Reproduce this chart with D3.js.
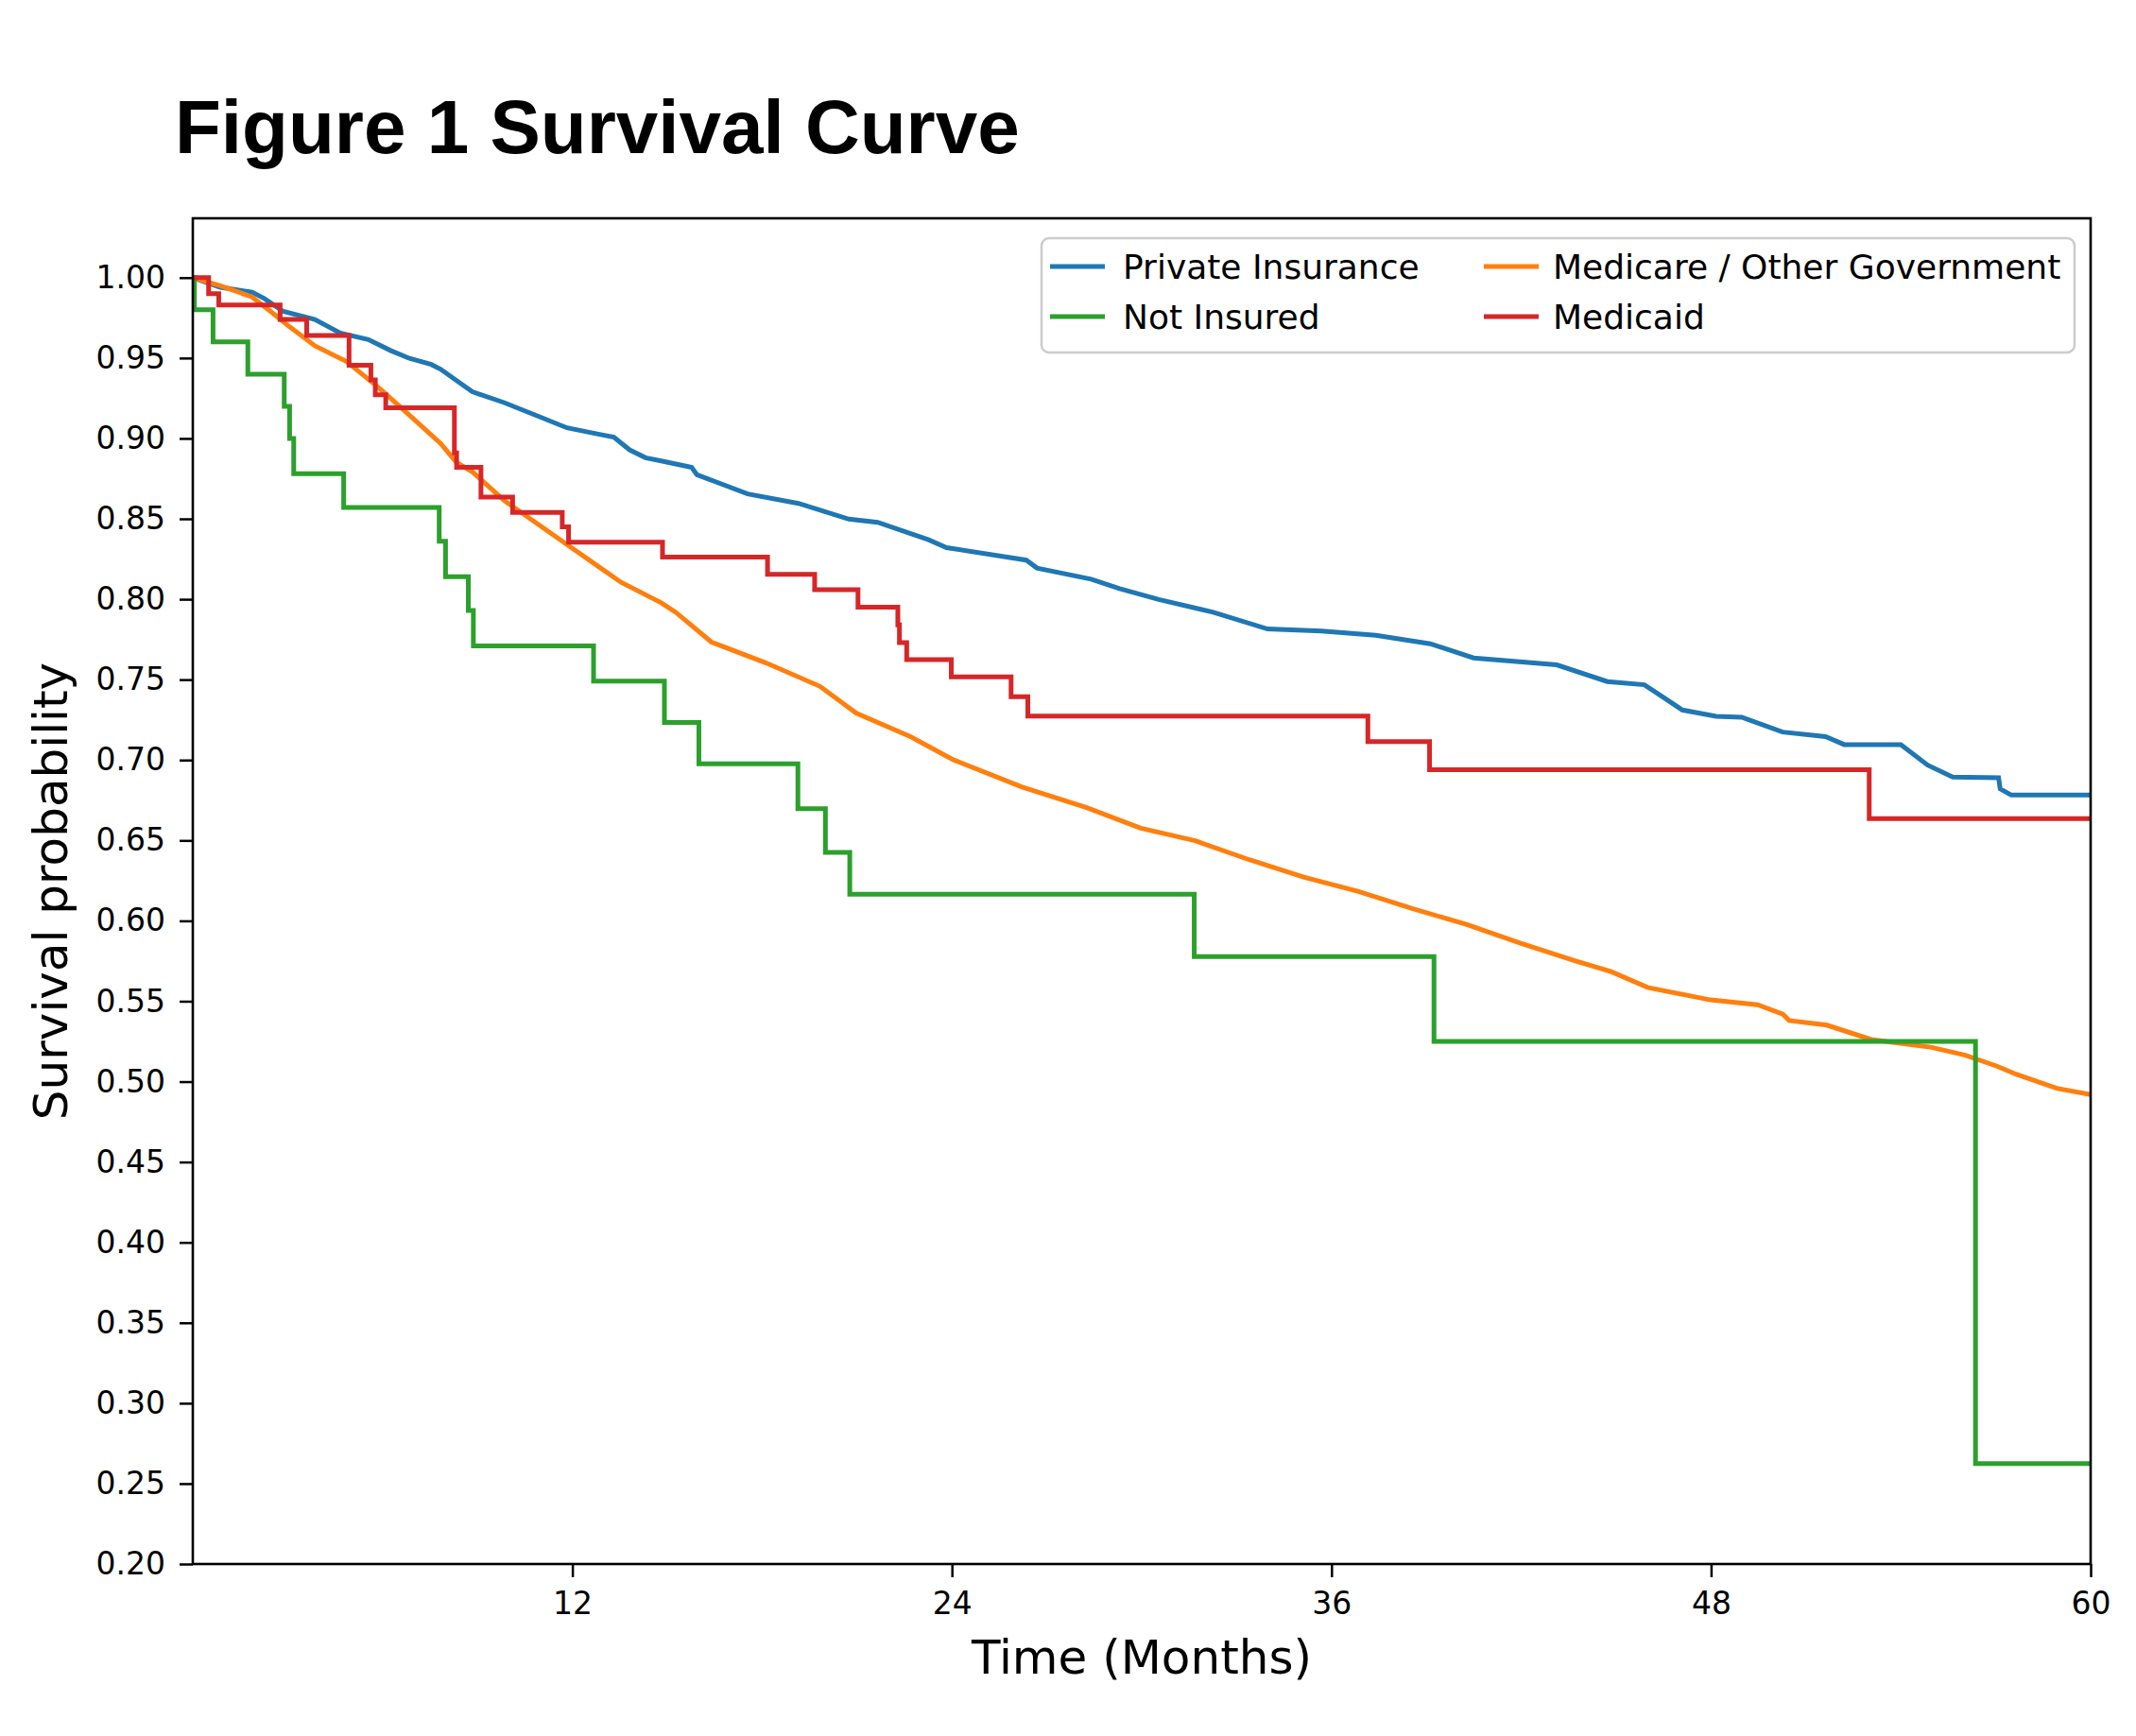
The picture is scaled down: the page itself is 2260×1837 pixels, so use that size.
<!DOCTYPE html>
<html>
<head>
<meta charset="utf-8">
<script src="https://cdn.jsdelivr.net/npm/d3@7"></script>
<style>
  body { margin: 0; background: #fff; }
  svg { display: block; }
  .tick text { font-family: "DejaVu Sans", sans-serif; fill: #000; }
</style>
</head>
<body>
<div id="chart"></div>
<script>
// Kaplan-Meier readings: [month, survival probability]
const privateInsurance = [
  [0, 1.0], [0.87, 0.994], [1.87, 0.991], [2.26, 0.987], [2.86, 0.979], [3.86, 0.974],
  [4.66, 0.9655], [5.55, 0.9615], [6.25, 0.9547], [6.85, 0.9498], [7.54, 0.946], [7.84, 0.943],
  [8.34, 0.936], [8.84, 0.929], [9.84, 0.9223], [10.83, 0.9145], [11.83, 0.9066], [12.82, 0.9027],
  [13.31, 0.9008], [13.81, 0.8929], [14.31, 0.888], [14.81, 0.886], [15.77, 0.882], [15.94, 0.8774],
  [17.54, 0.8655], [19.15, 0.8596], [20.74, 0.8498], [21.65, 0.8478], [23.26, 0.837], [23.83, 0.8321],
  [26.35, 0.8243], [26.69, 0.8194], [28.4, 0.8125], [29.3, 0.8066], [30.54, 0.7998], [32.26, 0.7919],
  [33.98, 0.7815], [35.69, 0.7802], [37.4, 0.7776], [39.12, 0.7723], [40.49, 0.7635], [43.12, 0.7592],
  [44.72, 0.7488], [45.89, 0.7468], [46.49, 0.739], [47.09, 0.7311], [48.16, 0.7272], [48.97, 0.7266],
  [50.26, 0.7174], [51.62, 0.7145], [52.21, 0.7096], [54.0, 0.7096], [54.85, 0.6968], [55.64, 0.6894],
  [57.09, 0.689], [57.14, 0.6821], [57.49, 0.6782], [60, 0.6782]
];

const medicareOther = [
  [0, 1.0], [0.87, 0.995], [1.87, 0.988], [2.46, 0.979], [3.06, 0.9694], [3.86, 0.9576],
  [4.86, 0.9478], [5.85, 0.9321], [6.85, 0.9145], [7.84, 0.8968], [8.34, 0.885], [8.84, 0.8792],
  [9.84, 0.8615], [10.83, 0.8478], [11.83, 0.834], [12.82, 0.8204], [13.54, 0.8105], [14.81, 0.7978],
  [15.26, 0.792], [16.4, 0.7733], [18.11, 0.7605], [19.83, 0.7458], [20.97, 0.7292], [22.69, 0.7145],
  [24.04, 0.7002], [26.2, 0.6833], [28.26, 0.6704], [29.97, 0.6576], [31.69, 0.6498], [33.4, 0.638],
  [35.12, 0.6272], [36.83, 0.6184], [38.55, 0.6076], [40.26, 0.5978], [41.98, 0.586], [43.69, 0.5752],
  [44.84, 0.5684], [45.99, 0.5586], [47.98, 0.5508], [49.47, 0.5478], [50.27, 0.5419], [50.47, 0.538],
  [51.66, 0.5351], [53.06, 0.5262], [54.95, 0.5214], [56.04, 0.5164], [57.04, 0.5096], [57.64, 0.5046],
  [58.93, 0.4958], [60, 0.4919]
];

const notInsured = [
  [0, 1.0], [0.05, 0.98], [0.64, 0.96], [1.74, 0.94], [2.89, 0.92], [3.06, 0.90], [3.19, 0.878],
  [4.77, 0.857], [7.79, 0.836], [7.99, 0.814], [8.71, 0.793], [8.87, 0.771], [12.67, 0.749],
  [14.91, 0.7233], [16.0, 0.6977], [19.13, 0.6697], [20.0, 0.6426], [20.77, 0.6166], [31.66, 0.5778],
  [39.24, 0.525], [56.36, 0.2625], [60, 0.2625]
];

const medicaid = [
  [0, 1.0], [0.5, 0.990], [0.82, 0.983], [2.76, 0.974], [3.6, 0.964], [4.94, 0.9455], [5.63, 0.9364],
  [5.77, 0.9272], [6.1, 0.919], [8.27, 0.891], [8.34, 0.882], [9.11, 0.8635], [10.11, 0.854],
  [11.68, 0.845], [11.88, 0.8355], [14.85, 0.8262], [18.17, 0.8155], [19.66, 0.806], [21.03, 0.795],
  [22.29, 0.784], [22.34, 0.773], [22.57, 0.7625], [23.98, 0.7517], [25.87, 0.7394], [26.4, 0.7273],
  [37.15, 0.7115], [39.1, 0.6939], [53.0, 0.6635], [60, 0.6635]
];

const seriesNames = ['Private Insurance', 'Medicare / Other Government', 'Not Insured', 'Medicaid'];
const seriesColors = ['#1f77b4', '#ff7f0e', '#2ca02c', '#d62728'];
const xTicks = [12, 24, 36, 48, 60];
const yTicks = [0.20, 0.25, 0.30, 0.35, 0.40, 0.45, 0.50, 0.55, 0.60, 0.65, 0.70, 0.75, 0.80, 0.85, 0.90, 0.95, 1.00];

const W = 2260, H = 1837;
const margin = { top: 231, right: 48, bottom: 182, left: 204 };
const w = W - margin.left - margin.right;
const h = H - margin.top - margin.bottom;

const svg = d3.select('#chart').append('svg')
    .attr('width', W)
    .attr('height', H)
    .style('background', '#fff');

svg.append('text')
    .attr('x', 185)
    .attr('y', 162)
    .style('font-family', '"Liberation Sans", Arial, sans-serif')
    .style('font-weight', 'bold')
    .style('font-size', '80px')
    .text('Figure 1 Survival Curve');

const scaleX = d3.scaleLinear().domain([0, 60]).range([0, w]);
const scaleY = d3.scaleLinear().domain([0.2, 1.0369]).range([h, 0]);

const chart = svg.append('g')
    .attr('transform', 'translate(' + margin.left + ', ' + margin.top + ')');

chart.append('clipPath').attr('id', 'clip')
    .append('rect').attr('x', -3).attr('y', -3).attr('width', w + 3).attr('height', h + 6);

const lines = chart.append('g').attr('clip-path', 'url(#clip)');

const stepLine = d3.line().x(d => scaleX(d[0])).y(d => scaleY(d[1])).curve(d3.curveStepAfter);
const plainLine = d3.line().x(d => scaleX(d[0])).y(d => scaleY(d[1]));

const drawn = [
  { data: privateInsurance, gen: plainLine, color: seriesColors[0] },
  { data: medicareOther, gen: plainLine, color: seriesColors[1] },
  { data: notInsured, gen: stepLine, color: seriesColors[2] },
  { data: medicaid, gen: stepLine, color: seriesColors[3] }
];

for (let s of drawn) {
    lines.append('path')
        .attr('d', s.gen(s.data))
        .style('fill', 'none')
        .style('stroke', s.color)
        .style('stroke-width', 5)
        .style('stroke-linejoin', 'miter');
}

chart.append('g')
    .attr('class', 'x axis')
    .attr('transform', 'translate(0, ' + h + ')')
    .call(d3.axisBottom(scaleX).tickValues(xTicks).tickSize(14).tickPadding(16).tickFormat(d3.format('d')))
    .call(g => g.select('.domain').remove())
    .call(g => g.selectAll('.tick line').style('stroke', '#000').style('stroke-width', 2.5))
    .call(g => g.selectAll('.tick text').style('font-size', '33px'));

chart.append('g')
    .attr('class', 'y axis')
    .call(d3.axisLeft(scaleY).tickValues(yTicks).tickSize(14).tickPadding(15).tickFormat(d3.format('.2f')))
    .call(g => g.select('.domain').remove())
    .call(g => g.selectAll('.tick line').style('stroke', '#000').style('stroke-width', 2.5))
    .call(g => g.selectAll('.tick text').style('font-size', '33px'));

chart.append('rect')
    .attr('width', w)
    .attr('height', h)
    .style('fill', 'none')
    .style('stroke', '#000')
    .style('stroke-width', 2.6);

svg.append('text')
    .attr('x', margin.left + w / 2)
    .attr('y', 1771)
    .attr('text-anchor', 'middle')
    .style('font-family', '"DejaVu Sans", sans-serif')
    .style('font-size', '50px')
    .text('Time (Months)');

svg.append('text')
    .attr('transform', 'translate(71, ' + (margin.top + h / 2) + ') rotate(-90)')
    .attr('text-anchor', 'middle')
    .style('font-family', '"DejaVu Sans", sans-serif')
    .style('font-size', '50px')
    .text('Survival probability');

// legend, two columns
const legend = svg.append('g');
legend.append('rect')
    .attr('x', 1102).attr('y', 252)
    .attr('width', 1093).attr('height', 121)
    .attr('rx', 8)
    .style('fill', '#fff')
    .style('fill-opacity', 0.8)
    .style('stroke', '#cccccc')
    .style('stroke-width', 2.5);

const legendPos = [[1111, 282], [1570, 282], [1111, 335], [1570, 335]];
const legendOrder = [0, 1, 2, 3];
legendOrder.forEach((k, i) => {
    const p = legendPos[i];
    legend.append('line')
        .attr('x1', p[0]).attr('x2', p[0] + 58)
        .attr('y1', p[1]).attr('y2', p[1])
        .style('stroke', seriesColors[k])
        .style('stroke-width', 5);
    legend.append('text')
        .attr('x', p[0] + (p[0] > 1300 ? 73 : 77))
        .attr('y', p[1] + 13)
        .style('font-family', '"DejaVu Sans", sans-serif')
        .style('font-size', '36px')
        .text(seriesNames[k]);
});
</script>
</body>
</html>
